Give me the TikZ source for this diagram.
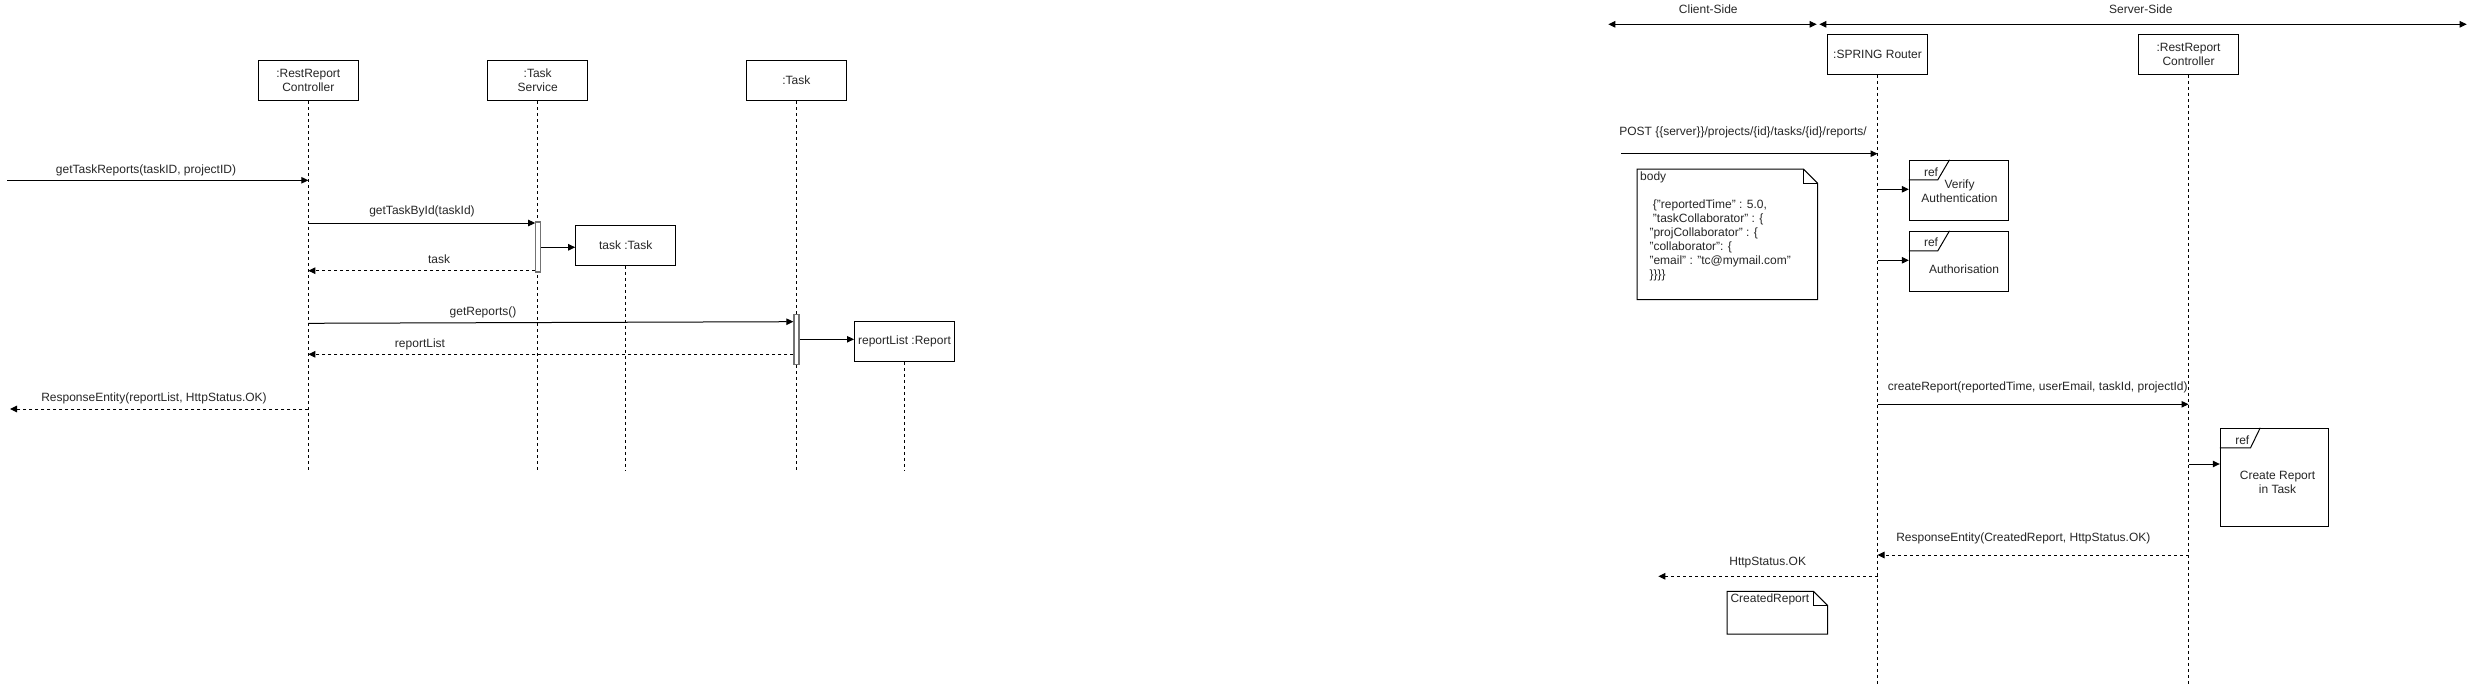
\documentclass[tikz,border=0pt]{standalone}
\usepackage{fontspec}
\setmainfont{Liberation Sans}
\usetikzlibrary{arrows.meta}
\begin{document}
\begin{tikzpicture}[x=1pt,y=-1pt,
  every node/.style={font=\fontsize{12}{14}\selectfont, text=black!85, inner sep=0pt},
  box/.style={draw=black, line width=1pt, minimum width=100pt, minimum height=40pt, align=center, fill=white},
  life/.style={line width=1pt, dash pattern=on 3pt off 3pt},
  msg/.style={line width=1pt, -{Triangle[length=7pt,width=6.5pt]}},
  ret/.style={line width=1pt, dash pattern=on 3pt off 3pt, -{Triangle[length=7pt,width=6.5pt]}},
  dbl/.style={line width=1pt, {Triangle[length=7pt,width=6.5pt]}-{Triangle[length=7pt,width=6.5pt]}},
  act/.style={draw=black!55, line width=1.3pt, fill=white, minimum width=5pt, minimum height=50pt},
  frame/.style={draw=black, line width=1pt, fill=white},
  lbl/.style={anchor=center},
]
\useasboundingbox (0,0) rectangle (2477,685);

% ---------------- left diagram ----------------
\node[box] (rr) at (308.3,80.5) {:RestReport\\Controller};
\node[box] (ts) at (537.7,80.5) {:Task\\Service};
\node[box] (tk) at (796.3,80.5) {:Task};
\coordinate (rrE) at (308.3,470);
\coordinate (tsE) at (537.7,470);
\coordinate (tkE) at (796.3,470);
\draw[life] (rr.south) -- (rrE);
\draw[life] (ts.south) -- (tsE);
\draw[life] (tk.south) -- (tkE);

\node[box] (tt) at (625.7,245.3) {task :Task};
\coordinate (ttE) at (625.7,470);
\draw[life] (tt.south) -- (ttE);
\node[box] (rl) at (904.5,341.3) {reportList :Report};
\coordinate (rlE) at (904.5,470);
\draw[life] (rl.south) -- (rlE);

\node[act] (a1) at (538.3,247) {};
\node[act] (a2) at (796.5,339.3) {};

\coordinate (in1) at (7,180.3);
\draw[msg] (in1) -- (rr.center |- 0,180.3);
\node[lbl] (l1) at (146,170) {getTaskReports(taskID, projectID)};

\draw[msg] (rr.center |- 0,223) -- (a1.west |- 0,223);
\node[lbl] (l2) at (422,211) {getTaskById(taskId)};

\draw[msg] (a1.east |- 0,247.3) -- (tt.west |- 0,247.3);

\draw[ret] (a1.west |- 0,270.7) -- (rr.center |- 0,270.7);
\node[lbl] (l3) at (439,259.3) {task};

\draw[msg] (rr.center |- 0,323.3) -- (a2.west |- 0,321.7);
\node[lbl] (l4) at (483,312) {getReports()};

\draw[msg] (a2.east |- 0,339.3) -- (rl.west |- 0,339.3);

\draw[ret] (a2.west |- 0,354.3) -- (rr.center |- 0,354.3);
\node[lbl] (l5) at (420,344.3) {reportList};

\coordinate (out1) at (10,409);
\draw[ret] (rr.center |- 0,409) -- (out1);
\node[lbl] (l6) at (154,398.3) {ResponseEntity(reportList, HttpStatus.OK)};

% ---------------- right diagram ----------------
\coordinate (cs1) at (1608.3,24.3);
\coordinate (cs2) at (1816.7,24.3);
\coordinate (ss1) at (1819.3,24.3);
\coordinate (ss2) at (2466.7,24.3);
\draw[dbl] (cs1) -- (cs2);
\draw[dbl] (ss1) -- (ss2);
\node[lbl] (csl) at (1708.3,9.5) {Client-Side};
\node[lbl] (ssl) at (2140.8,9.7) {Server-Side};

\node[box] (sp) at (1877.5,54.3) {:SPRING Router};
\node[box] (rc) at (2188.5,54.3) {:RestReport\\Controller};
\coordinate (spE) at (1877.5,685);
\coordinate (rcE) at (2188.5,685);
\draw[life] (sp.south) -- (spE);
\draw[life] (rc.south) -- (rcE);

% POST
\coordinate (post0) at (1621,153.7);
\draw[msg] (post0) -- (sp.center |- post0);
\node[lbl] (lpost) at (1743,132.7) {POST \{\{server\}\}/projects/\{id\}/tasks/\{id\}/reports/};

% body note
\node[minimum width=180pt, minimum height=130pt] (body) at (1727.3,234.3) {};
\draw[line width=1pt, fill=white] (body.north west) -- ([xshift=-14pt]body.north east) -- ([yshift=-14pt]body.north east) -- (body.south east) -- (body.south west) -- cycle;
\draw[line width=1pt] ([xshift=-14pt]body.north east) -- ([xshift=-14pt,yshift=-14pt]body.north east) -- ([yshift=-14pt]body.north east);
\node[anchor=west] (bodyt) at (1640,177.7) {body};
\node[anchor=west, align=left] (json) at (1649.3,240.7) {\hspace*{3.4pt}\{"reportedTime" : 5.0,\\\hspace*{3.4pt}"taskCollaborator" : \{\\"projCollaborator" : \{\\"collaborator": \{\\"email" : "tc@mymail.com"\\\}\}\}\}};

% ref: Verify Authentication
\node[frame, minimum width=99pt, minimum height=60pt] (va) at (1958.8,190.3) {};
\draw[line width=1pt] ([yshift=-20pt]va.north west) -- ++(29,0) -- ([xshift=40.7pt]va.north west);
\node[lbl] (varef) at (1931,172) {ref};
\node[lbl, align=center] (vat) at (1959.5,191.5) {Verify\\Authentication};
\draw[msg] (sp.center |- 0,189.3) -- (va.west |- 0,189.3);

% ref: Authorisation
\node[frame, minimum width=99pt, minimum height=60pt] (au) at (1958.8,261.3) {};
\draw[line width=1pt] ([yshift=-20pt]au.north west) -- ++(29,0) -- ([xshift=40.7pt]au.north west);
\node[lbl] (auref) at (1931,242.7) {ref};
\node[lbl] (aut) at (1964,269.3) {Authorisation};
\draw[msg] (sp.center |- 0,260.3) -- (au.west |- 0,260.3);

% createReport
\draw[msg] (sp.center |- 0,404.3) -- (rc.center |- 0,404.3);
\node[lbl] (lcr) at (2037.8,387.5) {createReport(reportedTime, userEmail, taskId, projectId)};

% ref: Create Report in Task
\node[frame, minimum width=108pt, minimum height=97.7pt] (cr) at (2274.3,477.2) {};
\draw[line width=1pt] ([yshift=-20pt]cr.north west) -- ++(30.7,0) -- ([xshift=40.4pt]cr.north west);
\node[lbl] (crref) at (2242.3,440) {ref};
\node[lbl, align=center] (crt) at (2277.5,482.3) {Create Report\\in Task};
\draw[msg] (rc.center |- 0,464) -- (cr.west |- 0,464);

% ResponseEntity return
\draw[ret] (rc.center |- 0,555) -- (sp.center |- 0,555);
\node[lbl] (lre) at (2023.3,538.5) {ResponseEntity(CreatedReport, HttpStatus.OK)};

% HttpStatus.OK
\coordinate (out2) at (1658.3,576.3);
\draw[ret] (sp.center |- 0,576.3) -- (out2);
\node[lbl] (lok) at (1767.7,562.7) {HttpStatus.OK};

% CreatedReport note
\node[minimum width=100pt, minimum height=42.3pt] (cnote) at (1777.3,612.8) {};
\draw[line width=1pt, fill=white] (cnote.north west) -- ([xshift=-14pt]cnote.north east) -- ([yshift=-14pt]cnote.north east) -- (cnote.south east) -- (cnote.south west) -- cycle;
\draw[line width=1pt] ([xshift=-14pt]cnote.north east) -- ([xshift=-14pt,yshift=-14pt]cnote.north east) -- ([yshift=-14pt]cnote.north east);
\node[anchor=west] (cnt) at (1730.3,599.3) {CreatedReport};
\end{tikzpicture}
\end{document}
